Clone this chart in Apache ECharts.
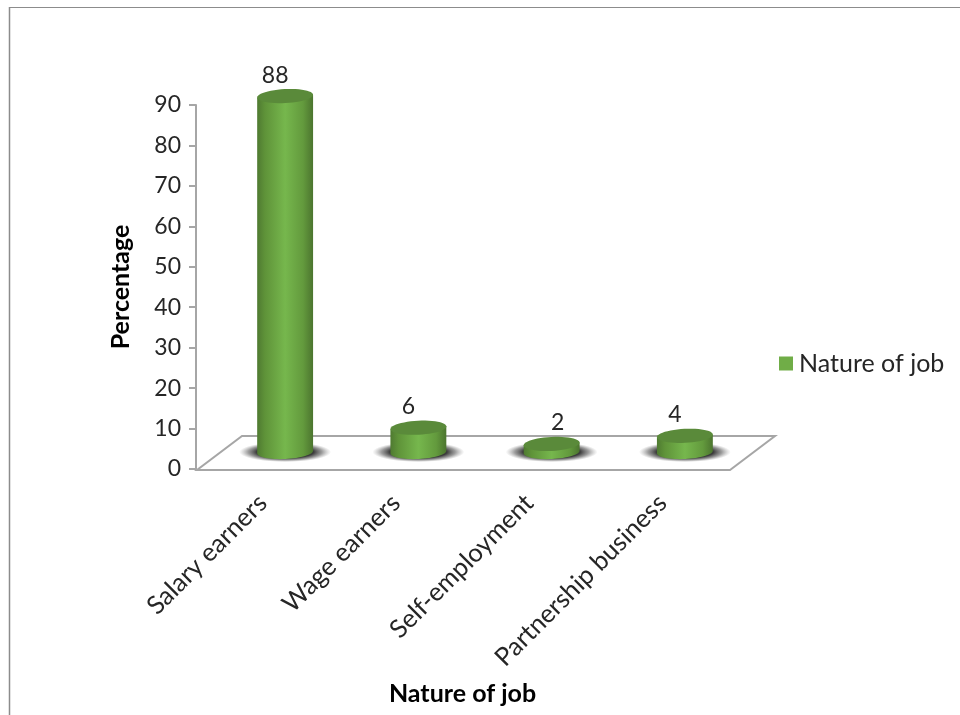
<!DOCTYPE html>
<html>
<head>
<meta charset="utf-8">
<style>html,body{margin:0;padding:0;background:#fff}#chart{width:960px;height:715px}</style>
<script src="https://cdn.jsdelivr.net/npm/echarts@6/dist/echarts.min.js"></script>
</head>
<body>
<div id="chart"></div>
<script>
const categories = ['Salary earners', 'Wage earners', 'Self-employment', 'Partnership business'];
const percentages = [88, 6, 2, 4];
const seriesName = 'Nature of job';
const axisTitleY = 'Percentage';
const axisTitleX = 'Nature of job';

// Horizontal nudge of each value label relative to its cylinder
const labelShiftX = [-10, -10, 6, -10];

const FONT = 'Lato, "Open Sans", sans-serif';
const INK = '#262626';
const RULE = '#a6a6a6';
// Depth of the floor plane, in pixels
const DEPTH_X = 45;
const DEPTH_Y = 34;
const TILT = -0.05;

// Point on a slightly tilted ellipse
function ellipsePoint(cx, cy, rx, ry, t) {
  const ex = rx * Math.cos(t), ey = ry * Math.sin(t);
  return [cx + ex * Math.cos(TILT) - ey * Math.sin(TILT),
          cy + ex * Math.sin(TILT) + ey * Math.cos(TILT)];
}

// Outline of the ellipse between two angles
function arc(cx, cy, rx, ry, from, to, steps) {
  const pts = [];
  for (let k = 0; k <= steps; k++) {
    pts.push(ellipsePoint(cx, cy, rx, ry, from + (to - from) * k / steps));
  }
  return pts;
}

function renderFloor(params, api) {
  const origin = api.coord([0, 0]);
  const band = api.size([1, 0])[0];
  const left = origin[0] - band / 2 + 1;
  const right = left + band * categories.length;
  const y = origin[1] + 1;
  return {
    type: 'polygon',
    shape: { points: [[left, y], [right, y], [right + DEPTH_X, y - DEPTH_Y], [left + DEPTH_X, y - DEPTH_Y]] },
    style: { fill: 'none', stroke: RULE, lineWidth: 2 }
  };
}

function renderCylinder(params, api) {
  const i = api.value(0);
  const base = api.coord([i, 0]);
  const top = api.coord([i, api.value(1)]);
  const band = api.size([1, 0])[0];
  const rx = band * 0.21;
  const ry = 7;
  const cx = base[0] + DEPTH_X / 2;
  const baseY = base[1] - DEPTH_Y / 2;
  const topY = top[1] - DEPTH_Y / 2;

  const body = [ellipsePoint(cx, topY, rx, ry, Math.PI)]
    .concat(arc(cx, baseY, rx, ry, Math.PI, 0, 32), [ellipsePoint(cx, topY, rx, ry, 0)]);

  return {
    type: 'group',
    children: [
      {
        // Soft contact shadow: a radial fade squashed onto the floor plane
        type: 'circle',
        x: cx,
        y: baseY,
        scaleY: 0.22,
        shape: { cx: 0, cy: 0, r: 46 },
        style: {
          fill: new echarts.graphic.RadialGradient(0.5, 0.5, 0.5, [
            { offset: 0, color: 'rgba(45,45,45,1)' },
            { offset: 0.62, color: 'rgba(50,50,50,0.95)' },
            { offset: 0.8, color: 'rgba(90,90,90,0.6)' },
            { offset: 1, color: 'rgba(140,140,140,0)' }
          ])
        }
      },
      {
        type: 'polygon',
        shape: { points: body },
        style: {
          fill: new echarts.graphic.LinearGradient(0, 0, 1, 0, [
            { offset: 0, color: '#4f7a31' },
            { offset: 0.14, color: '#5f9339' },
            { offset: 0.5, color: '#76b74d' },
            { offset: 0.82, color: '#639a3d' },
            { offset: 1, color: '#4c752f' }
          ])
        }
      },
      {
        type: 'polygon',
        shape: { points: arc(cx, topY, rx, ry, 0, Math.PI * 2, 48) },
        style: { fill: '#5a8a3a' }
      },
      {
        type: 'text',
        style: {
          text: String(api.value(1)),
          x: cx + labelShiftX[i],
          y: topY - 21,
          fill: INK,
          font: '23px ' + FONT,
          align: 'center',
          verticalAlign: 'middle'
        }
      }
    ]
  };
}

const chart = echarts.init(document.getElementById('chart'), null, { renderer: 'canvas' });
chart.setOption({
  animation: false,
  backgroundColor: '#ffffff',
  graphic: [
    { type: 'line', shape: { x1: 10, y1: 7.5, x2: 960, y2: 7.5 }, style: { stroke: '#8c8c8c', lineWidth: 1 } },
    { type: 'line', shape: { x1: 9.5, y1: 7, x2: 9.5, y2: 715 }, style: { stroke: '#8c8c8c', lineWidth: 1.5 } }
  ],
  grid: { left: 196, top: 105, width: 533, height: 364, outerBoundsMode: 'none' },
  legend: {
    data: [seriesName],
    left: 774,
    top: 346,
    icon: 'rect',
    itemWidth: 14,
    itemHeight: 14,
    itemGap: 6,
    textStyle: { fontFamily: FONT, fontSize: 25, color: INK, padding: [0, 0, 0, 1] }
  },
  xAxis: {
    type: 'category',
    data: categories,
    name: axisTitleX,
    nameLocation: 'middle',
    nameGap: 212,
    nameTextStyle: { fontFamily: FONT, fontSize: 25, fontWeight: 'bold', color: '#000' },
    axisLine: { show: false },
    axisTick: { show: false },
    axisLabel: { rotate: 45, interval: 0, margin: 30, fontFamily: FONT, fontSize: 25.5, color: INK }
  },
  yAxis: {
    type: 'value',
    min: 0,
    max: 90,
    interval: 10,
    name: axisTitleY,
    nameLocation: 'middle',
    nameGap: 63,
    nameTextStyle: { fontFamily: FONT, fontSize: 25, fontWeight: 'bold', color: '#000' },
    splitLine: { show: false },
    axisLine: { show: true, lineStyle: { color: RULE, width: 2 } },
    axisTick: { show: true, length: 7, lineStyle: { color: RULE, width: 2 } },
    axisLabel: { margin: 15, fontFamily: FONT, fontSize: 23, color: INK }
  },
  series: [
    {
      type: 'custom',
      silent: true,
      z: 1,
      legendHoverLink: false,
      renderItem: renderFloor,
      encode: { x: 0, y: 1 },
      data: [[0, 0]]
    },
    {
      type: 'custom',
      name: seriesName,
      z: 2,
      itemStyle: { color: '#70ad47' },
      renderItem: renderCylinder,
      encode: { x: 0, y: 1 },
      data: percentages.map((v, i) => [i, v])
    }
  ]
});
</script>
</body>
</html>
